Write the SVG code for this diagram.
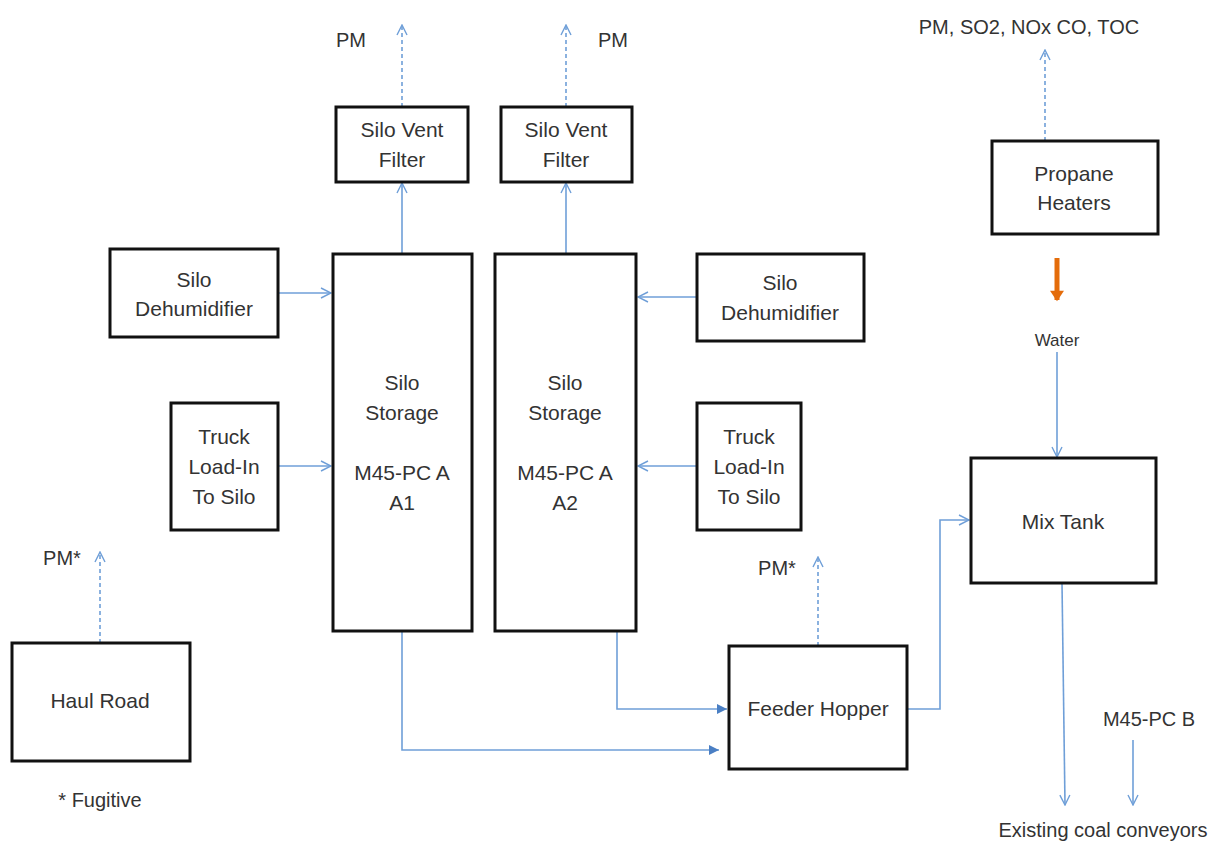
<svg xmlns="http://www.w3.org/2000/svg" width="1231" height="846" viewBox="0 0 1231 846">
<style>
.box{fill:#fff;stroke:#111;stroke-width:3}
.t{font-family:"Liberation Sans",Arial,sans-serif;font-size:21px;fill:#333;text-anchor:middle}
.l{font-family:"Liberation Sans",Arial,sans-serif;font-size:20px;fill:#333;text-anchor:middle}
.c{fill:none;stroke:#6f9fd8;stroke-width:1.6}
.d{fill:none;stroke:#6f9fd8;stroke-width:1.6;stroke-dasharray:4 3}
</style>
<defs>
<marker id="open" viewBox="0 0 12 12" refX="11" refY="6" markerWidth="12" markerHeight="12" markerUnits="userSpaceOnUse" orient="auto">
<path d="M1,1 L11,6 L1,11" fill="none" stroke="#6f9fd8" stroke-width="1.4"/>
</marker>
<marker id="fill" viewBox="0 0 12 12" refX="11" refY="6" markerWidth="12" markerHeight="12" markerUnits="userSpaceOnUse" orient="auto">
<path d="M1,1 L11,6 L1,11 Z" fill="#4a7fc4"/>
</marker>
<marker id="orange" viewBox="0 0 12 12" refX="6" refY="10" markerWidth="14" markerHeight="14" markerUnits="userSpaceOnUse" orient="0">
<path d="M0,2 L12,2 L6,11 Z" fill="#e46c0a"/>
</marker>
</defs>
<g id="connectors">
<path class="d" d="M402,107 V25" marker-end="url(#open)"/>
<path class="d" d="M566,107 V25" marker-end="url(#open)"/>
<path class="d" d="M1045,141 V50" marker-end="url(#open)"/>
<path class="d" d="M100,643 V552" marker-end="url(#open)"/>
<path class="d" d="M818,646 V557" marker-end="url(#open)"/>
<path class="c" d="M402,254 V183" marker-end="url(#open)"/>
<path class="c" d="M566,254 V183" marker-end="url(#open)"/>
<path class="c" d="M278,293 H331" marker-end="url(#open)"/>
<path class="c" d="M278,466 H331" marker-end="url(#open)"/>
<path class="c" d="M697,297 H638" marker-end="url(#open)"/>
<path class="c" d="M697,466 H638" marker-end="url(#open)"/>
<path class="c" d="M1057,352 V457" marker-end="url(#open)"/>
<path class="c" d="M907,709 H940 V520 H969" marker-end="url(#open)"/>
<path class="c" d="M617,631 V709 H727" marker-end="url(#fill)"/>
<path class="c" d="M402,631 V750 H719" marker-end="url(#fill)"/>
<path class="c" d="M1062,583 L1065,805" marker-end="url(#open)"/>
<path class="c" d="M1133,740 V805" marker-end="url(#open)"/>
<path d="M1057,258 V300" stroke="#e46c0a" stroke-width="5" fill="none" marker-end="url(#orange)"/>
</g>
<g id="vent1"><rect class="box" x="336" y="107" width="132" height="75"/><text class="t" x="402" y="137">Silo Vent</text><text class="t" x="402" y="167">Filter</text></g>
<g id="vent2"><rect class="box" x="501" y="107" width="131" height="75"/><text class="t" x="566" y="137">Silo Vent</text><text class="t" x="566" y="167">Filter</text></g>
<g id="silo1"><rect class="box" x="333" y="254" width="139" height="377"/><text class="t" x="402" y="390">Silo</text><text class="t" x="402" y="420">Storage</text><text class="t" x="402" y="480">M45-PC A</text><text class="t" x="402" y="510">A1</text></g>
<g id="silo2"><rect class="box" x="495" y="254" width="141" height="377"/><text class="t" x="565" y="390">Silo</text><text class="t" x="565" y="420">Storage</text><text class="t" x="565" y="480">M45-PC A</text><text class="t" x="565" y="510">A2</text></g>
<g id="dehum1"><rect class="box" x="110" y="249" width="168" height="88"/><text class="t" x="194" y="287">Silo</text><text class="t" x="194" y="316">Dehumidifier</text></g>
<g id="dehum2"><rect class="box" x="697" y="254" width="167" height="87"/><text class="t" x="780" y="290">Silo</text><text class="t" x="780" y="320">Dehumidifier</text></g>
<g id="truck1"><rect class="box" x="171" y="403" width="107" height="127"/><text class="t" x="224" y="444">Truck</text><text class="t" x="224" y="474">Load-In</text><text class="t" x="224" y="504">To Silo</text></g>
<g id="truck2"><rect class="box" x="697" y="403" width="104" height="127"/><text class="t" x="749" y="444">Truck</text><text class="t" x="749" y="474">Load-In</text><text class="t" x="749" y="504">To Silo</text></g>
<g id="propane"><rect class="box" x="992" y="141" width="166" height="93"/><text class="t" x="1074" y="181">Propane</text><text class="t" x="1074" y="210">Heaters</text></g>
<g id="mixtank"><rect class="box" x="971" y="458" width="185" height="125"/><text class="t" x="1063" y="529">Mix Tank</text></g>
<g id="feeder"><rect class="box" x="729" y="646" width="178" height="123"/><text class="t" x="818" y="716">Feeder Hopper</text></g>
<g id="haul"><rect class="box" x="12" y="643" width="178" height="118"/><text class="t" x="100" y="708">Haul Road</text></g>
<g id="labels">
<text class="l" x="351" y="47">PM</text>
<text class="l" x="613" y="47">PM</text>
<text class="l" x="1029" y="34">PM, SO2, NOx CO, TOC</text>
<text class="l" x="1057" y="346" style="font-size:17px">Water</text>
<text class="l" x="62" y="565">PM*</text>
<text class="l" x="777" y="575">PM*</text>
<text class="l" x="1149" y="726">M45-PC B</text>
<text class="l" x="1103" y="837">Existing coal conveyors</text>
<text class="l" x="100" y="807">* Fugitive</text>
</g>
</svg>
